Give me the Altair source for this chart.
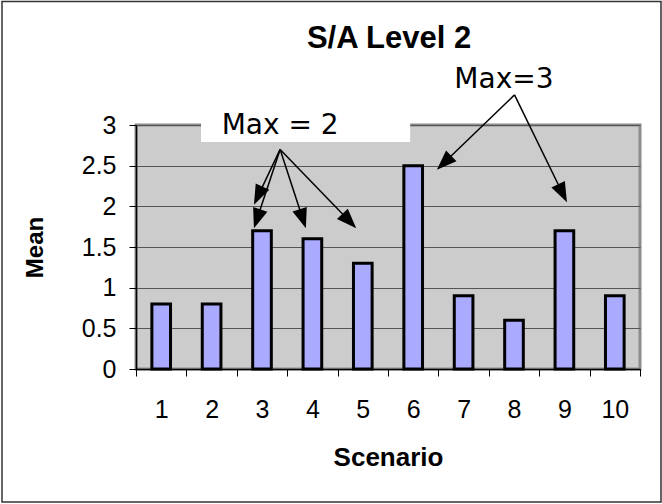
import math
import altair as alt
import pandas as pd

# ---- data ----
scenarios = [1, 2, 3, 4, 5, 6, 7, 8, 9, 10]
means = [0.8, 0.8, 1.7, 1.6, 1.3, 2.5, 0.9, 0.6, 1.7, 0.9]
y_ticks = [0, 0.5, 1, 1.5, 2, 2.5, 3]

# annotation anchors, in data units (x = scenario position, y = mean)
label_text = ["Max = 2", "Max=3"]
label_x = [3.36, 7.80]
label_y = [2.89, 3.45]

box_x = [1.79, 5.94]
box_y = [2.79, 3.06]

arrow_from_x = [3.36, 3.36, 3.36, 3.36, 8.01, 8.01]
arrow_from_y = [2.70, 2.70, 2.70, 2.70, 3.37, 3.37]
arrow_to_x = [2.84, 2.84, 3.87, 4.87, 6.47, 9.05]
arrow_to_y = [2.02, 1.73, 1.73, 1.73, 2.45, 2.05]

# ---- layout ----
W, H = 504, 244
PX = W / 10.0   # px per scenario unit
PY = H / 3.0    # px per mean unit
HEAD = 10.0     # half arrow-head length in px

FONT = "Liberation Sans"
NOTE_FONT = "DejaVu Sans"

df = pd.DataFrame({"Scenario": scenarios, "Mean": means})

# arrow lines & heads
rows = []
for fx, fy, tx, ty in zip(arrow_from_x, arrow_from_y, arrow_to_x, arrow_to_y):
    dxs = (tx - fx) * PX
    dys = -(ty - fy) * PY
    n = math.hypot(dxs, dys)
    ux, uy = dxs / n, dys / n
    ang = math.degrees(math.atan2(ux, -uy)) % 360
    cx = tx - HEAD * ux / PX
    cy = ty + HEAD * uy / PY
    rows.append({"fx": fx, "fy": fy, "cx": cx, "cy": cy, "ang": ang})
arrows = pd.DataFrame(rows)

labels = pd.DataFrame({"text": label_text, "x": label_x, "y": label_y})
box = pd.DataFrame({"x0": [box_x[0]], "x1": [box_x[1]], "y0": [box_y[0]], "y1": [box_y[1]]})

xq = alt.Scale(domain=[0.5, 10.5], nice=False, zero=False)
yq = alt.Scale(domain=[0, 3], nice=False)

bars = alt.Chart(df).mark_bar(
    width=alt.RelativeBandSize(0.37), fill="#AAAAFF", stroke="black", strokeWidth=3
).encode(
    x=alt.X(
        "Scenario:O", sort=scenarios,
        scale=alt.Scale(paddingInner=0, paddingOuter=0),
        axis=alt.Axis(
            title="Scenario", labelAngle=0, tickBand="extent", grid=False,
            domainColor="black", domainWidth=1.5, tickColor="black", tickSize=7,
            labelFont=FONT, labelFontSize=25, labelColor="black",
            labelBaseline="alphabetic", labelPadding=41,
            titleFont=FONT, titleFontSize=26, titleFontWeight="bold", titleColor="black",
            titleBaseline="alphabetic", titleY=96,
        ),
    ),
    y=alt.Y(
        "Mean:Q", scale=yq,
        axis=alt.Axis(
            title="Mean", values=y_ticks, format="~g",
            grid=True, gridColor="#555555", gridWidth=1,
            domainColor="black", domainWidth=1.5, tickColor="black", tickSize=7,
            labelFont=FONT, labelFontSize=25, labelColor="black", labelPadding=13,
            titleFont=FONT, titleFontSize=24, titleFontWeight="bold", titleColor="black",
            titleAngle=270, titleBaseline="alphabetic", titleAlign="center",
            titleX=-94, titleY=H / 2,
        ),
    ),
)

box_layer = alt.Chart(box).mark_rect(fill="white").encode(
    x=alt.X("x0:Q", scale=xq, axis=None), x2="x1:Q",
    y=alt.Y("y0:Q", scale=yq, axis=None), y2="y1:Q",
)

text_layer = alt.Chart(labels).mark_text(
    font=NOTE_FONT, fontSize=28, baseline="alphabetic", align="center", color="black"
).encode(
    x=alt.X("x:Q", scale=xq, axis=None),
    y=alt.Y("y:Q", scale=yq, axis=None),
    text="text:N",
)

line_layer = alt.Chart(arrows).mark_rule(color="black", strokeWidth=1.5).encode(
    x=alt.X("fx:Q", scale=xq, axis=None), x2="cx:Q",
    y=alt.Y("fy:Q", scale=yq, axis=None), y2="cy:Q",
)

head_layer = alt.Chart(arrows).mark_point(
    shape="M0,-1L-0.75,1L0.75,1Z", filled=True, size=400, color="black",
    opacity=1, strokeWidth=0,
).encode(
    x=alt.X("cx:Q", scale=xq, axis=None),
    y=alt.Y("cy:Q", scale=yq, axis=None),
    angle=alt.Angle("ang:Q", scale=None),
)

frame = alt.Chart(pd.DataFrame({"k": [0]})).mark_rect(
    fillOpacity=0, stroke="#333333", strokeWidth=1.5
).encode(
    x=alt.value(-134), x2=alt.value(W + 21),
    y=alt.value(-123.5), y2=alt.value(H + 133),
)

chart = alt.layer(
    bars, box_layer, line_layer, head_layer, text_layer, frame
).resolve_scale(x="independent").resolve_axis(x="independent", y="independent").properties(
    width=W, height=H,
    autosize="none",
    padding={"left": 136, "top": 125, "right": 22, "bottom": 135},
    background="white",
    title=alt.TitleParams(
        text="S/A Level 2", font=FONT, fontSize=31, fontWeight="bold", color="black",
        anchor="middle", baseline="alphabetic", offset=-78, dx=1,
    ),
).configure_view(fill="#CCCCCC", stroke="#8C8C8C", strokeWidth=3)

chart.save("out.html", embed_options={"renderer": "svg", "actions": False})
